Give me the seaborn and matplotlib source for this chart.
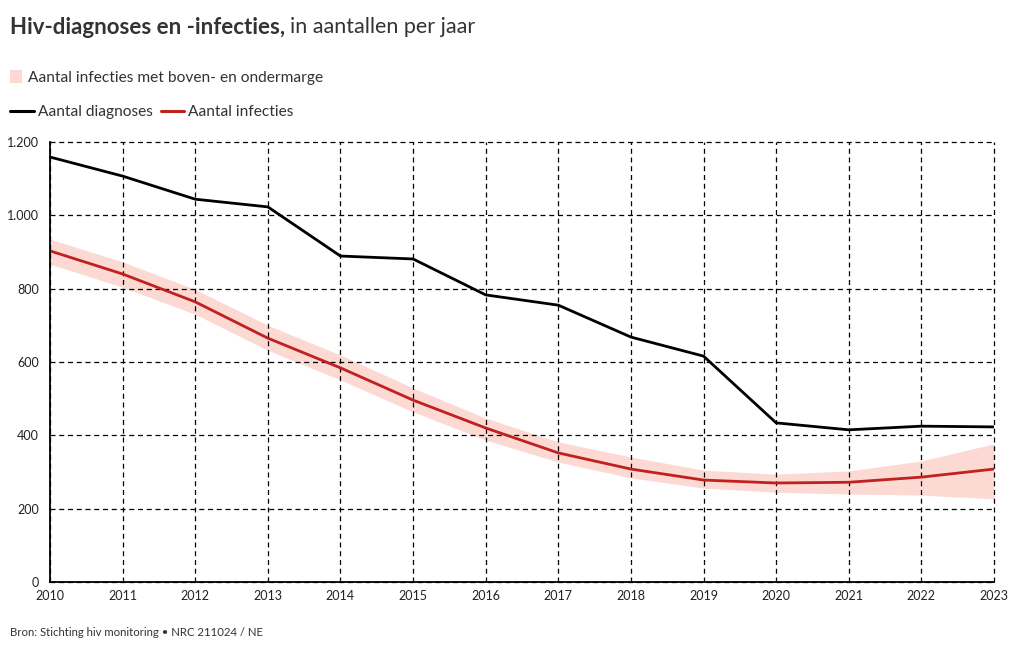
import matplotlib
matplotlib.use("Agg")
import matplotlib.pyplot as plt
import seaborn as sns
import pandas as pd
from matplotlib.lines import Line2D
from matplotlib.patches import Rectangle

years = [2010, 2011, 2012, 2013, 2014, 2015, 2016, 2017, 2018, 2019, 2020, 2021, 2022, 2023]
diagnoses = [1159, 1107, 1044, 1023, 889, 881, 783, 755, 668, 616, 434, 415, 425, 423]
infections = [903, 840, 764, 665, 584, 496, 420, 352, 308, 278, 270, 272, 286, 308]
infections_upper = [935, 873, 798, 700, 619, 529, 447, 382, 341, 305, 294, 303, 330, 377]
infections_lower = [867, 804, 730, 632, 551, 464, 387, 327, 284, 256, 245, 240, 237, 227]
y_ticks = [0, 200, 400, 600, 800, 1000, 1200]
y_tick_labels = ["0", "200", "400", "600", "800", "1.000", "1.200"]

sns.set_theme(style="white")
plt.rcParams["font.family"] = ["Lato", "DejaVu Sans"]

df = pd.DataFrame({"jaar": years, "diagnoses": diagnoses, "infecties": infections,
                   "boven": infections_upper, "onder": infections_lower})

W, H = 1020, 650
fig = plt.figure(figsize=(W / 100, H / 100), dpi=100)
ax = fig.add_axes([50 / W, 1 - 582 / H, 944 / W, 440 / H])

band_color = "#fcd9d3"
red = "#c0211f"

ax.fill_between(df["jaar"], df["onder"], df["boven"], color=band_color, lw=0, zorder=1)
sns.lineplot(data=df, x="jaar", y="infecties", color=red, lw=2, ax=ax, zorder=3)
sns.lineplot(data=df, x="jaar", y="diagnoses", color="black", lw=2, ax=ax, zorder=3)

ax.set_xlim(2010, 2023)
ax.set_ylim(0, 1200)
ax.set_xticks(years)
ax.set_xticklabels([str(y) for y in years], fontsize=9, color="#222222")
ax.set_yticks(y_ticks)
ax.set_yticklabels(y_tick_labels, fontsize=9, color="#222222")
ax.set_xlabel("")
ax.set_ylabel("")
ax.set_axisbelow(False)
ax.grid(True, color="black", linestyle=(0, (4, 3)), linewidth=0.9)
for gl in ax.get_xgridlines() + ax.get_ygridlines():
    gl.set_clip_on(False)
    gl.set_zorder(2)
for s in ["top", "right"]:
    ax.spines[s].set_visible(False)
for s in ["left", "bottom"]:
    ax.spines[s].set_color("black")
    ax.spines[s].set_linewidth(1.3)
    ax.spines[s].set_zorder(4)
ax.tick_params(axis="both", length=0)
ax.tick_params(axis="x", pad=6)
ax.tick_params(axis="y", pad=8)

# Title
t1 = fig.text(10 / W, 1 - 27 / H, "Hiv-diagnoses en -infecties,", fontsize=16,
              fontweight="bold", color="#333333", va="center", ha="left")
fig.canvas.draw()
bb = t1.get_window_extent()
fig.text((bb.x1 + 5) / W, 1 - 27 / H, "in aantallen per jaar", fontsize=15.5,
         color="#333333", va="center", ha="left")

# Legend
fig.patches.append(Rectangle((10 / W, 1 - 83 / H), 12 / W, 13 / H,
                             transform=fig.transFigure, color=band_color, lw=0))
fig.text(28 / W, 1 - 78 / H, "Aantal infecties met boven- en ondermarge", fontsize=11.2,
         color="#333333", va="center", ha="left")
fig.lines.append(Line2D([10 / W, 34 / W], [1 - 111 / H] * 2, color="black", lw=2.2,
                        transform=fig.transFigure))
t2 = fig.text(38 / W, 1 - 112 / H, "Aantal diagnoses", fontsize=11.2, color="#333333",
              va="center", ha="left")
fig.canvas.draw()
x0 = t2.get_window_extent().x1 + 8
fig.lines.append(Line2D([x0 / W, (x0 + 23) / W], [1 - 111 / H] * 2, color=red, lw=2.2,
                        transform=fig.transFigure))
fig.text((x0 + 27) / W, 1 - 112 / H, "Aantal infecties", fontsize=11.2, color="#333333",
         va="center", ha="left")

fig.text(10 / W, 1 - 633 / H, "Bron: Stichting hiv monitoring \u2022 NRC 211024 / NE",
         fontsize=8.2, color="#333333", va="center", ha="left")

fig.savefig("out.png", dpi=100)
